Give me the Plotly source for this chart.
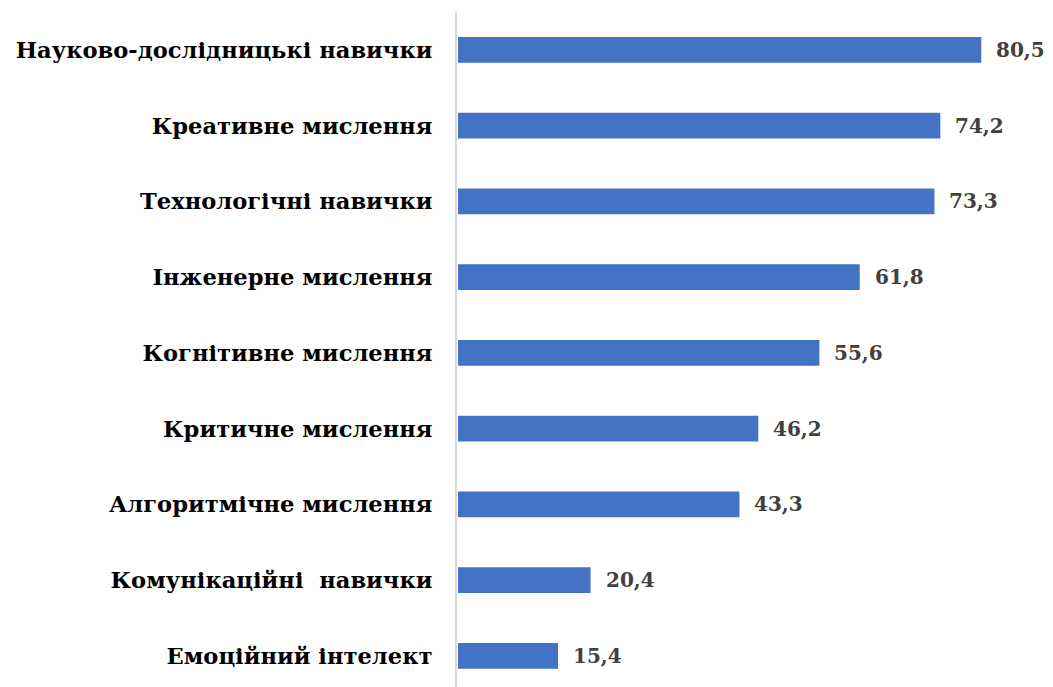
import plotly.graph_objects as go

categories = [
    "Науково-дослідницькі навички",
    "Креативне мислення",
    "Технологічні навички",
    "Інженерне мислення",
    "Когнітивне мислення",
    "Критичне мислення",
    "Алгоритмічне мислення",
    "Комунікаційні  навички",
    "Емоційний інтелект",
]
values = [80.5, 74.2, 73.3, 61.8, 55.6, 46.2, 43.3, 20.4, 15.4]
value_labels = [f"{v:.1f}".replace(".", ",") for v in values]

cats_bottom_up = categories[::-1]
vals_bottom_up = values[::-1]
labels_bottom_up = value_labels[::-1]

FONT = "DejaVu Serif"

fig = go.Figure(go.Bar(
    x=vals_bottom_up,
    y=cats_bottom_up,
    orientation="h",
    marker=dict(color="#4472C4", line=dict(width=0)),
    width=0.34,
    hoverinfo="x+y",
))

for c, v, t in zip(cats_bottom_up, vals_bottom_up, labels_bottom_up):
    fig.add_annotation(
        x=v, y=c, text=t, showarrow=False,
        xanchor="left", yanchor="middle", xshift=13,
        font=dict(family=FONT, size=20, color="#404040", weight="bold"),
    )

fig.update_layout(
    width=1045, height=679,
    margin=dict(l=449, r=8, t=4, b=0),
    plot_bgcolor="white", paper_bgcolor="white",
    showlegend=False,
    xaxis=dict(range=[-0.15, 90.3], visible=False, showgrid=False, zeroline=False),
    yaxis=dict(
        type="category", automargin=False,
        categoryorder="array", categoryarray=cats_bottom_up,
        range=[-0.41, 8.5],
        showline=True, linecolor="#D9D9D9", linewidth=2,
        ticks="", ticklabelstandoff=18,
        tickfont=dict(family=FONT, size=22.6, color="#000000", weight="bold"),
        showgrid=False, zeroline=False,
    ),
)

fig.write_html("out.html")
